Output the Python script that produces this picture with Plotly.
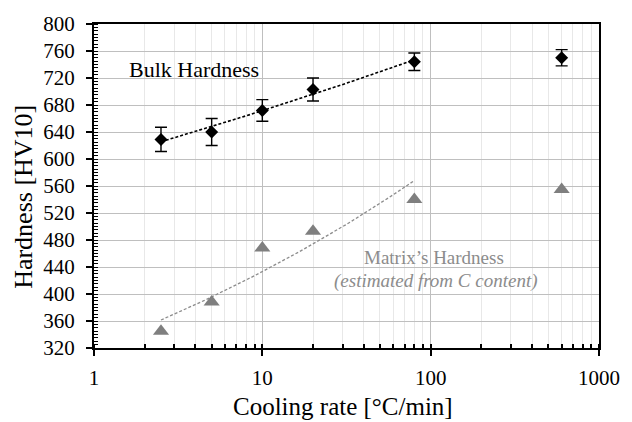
import numpy as np
import plotly.graph_objects as go

cooling_rate = [2.5, 5, 10, 20, 80, 600]
bulk_hardness = [629, 640, 672, 703, 744, 750]
bulk_err = [18, 20, 16, 17, 13, 12]
matrix_hardness = [345, 388, 468, 493, 540, 555]
fit_n = 5  # trendlines fitted over first five points (power trendline)

x_ticks = [1, 10, 100, 1000]
y_ticks = list(range(320, 801, 40))

def power_fit(x, y):
    b, lna = np.polyfit(np.log(x), np.log(y), 1)
    xs = np.logspace(np.log10(x[0]), np.log10(x[-1]), 60)
    return xs, np.exp(lna) * xs ** b

serif = "Liberation Serif"
W, H = 632, 422
ML, MR, MT, MB = 94, 23, 23, 74
PW, PH = W - ML - MR, H - MT - MB

def px(xp):
    return (xp - ML) / PW

def py(yp):
    return (H - MB - yp) / PH

fig = go.Figure()

bx, by = power_fit(np.array(cooling_rate[:fit_n]), np.array(bulk_hardness[:fit_n]))
mx, my = power_fit(np.array(cooling_rate[:fit_n]), np.array(matrix_hardness[:fit_n]))

fig.add_trace(go.Scatter(x=bx, y=by, mode="lines",
                         line=dict(color="black", width=1.6, dash="3px,2px"),
                         showlegend=False, hoverinfo="skip"))
fig.add_trace(go.Scatter(x=mx, y=my, mode="lines",
                         line=dict(color="#8c8c8c", width=1.3, dash="3px,2px"),
                         showlegend=False, hoverinfo="skip"))
fig.add_trace(go.Scatter(x=cooling_rate, y=bulk_hardness, mode="markers",
                         marker=dict(symbol="diamond", size=10, color="black"),
                         error_y=dict(type="data", array=bulk_err, color="black",
                                      thickness=1.4, width=6),
                         showlegend=False))
fig.add_trace(go.Scatter(x=cooling_rate, y=matrix_hardness, mode="markers",
                         marker=dict(symbol="triangle-up", size=14, color="#7f7f7f"),
                         showlegend=False))

fig.add_annotation(x=np.log10(3.95), y=732, text="Bulk Hardness", showarrow=False,
                   xanchor="center", yanchor="middle",
                   font=dict(family=serif, size=22, color="black"))
fig.add_annotation(x=np.log10(104), y=454, text="Matrix\u2019s Hardness", showarrow=False,
                   xanchor="center", yanchor="middle",
                   font=dict(family=serif, size=19, color="#8c8c8c"))
fig.add_annotation(x=np.log10(108), y=420, text="<i>(estimated from C content)</i>",
                   showarrow=False, xanchor="center", yanchor="middle",
                   font=dict(family=serif, size=19, color="#8c8c8c"))

# axis titles
fig.add_annotation(xref="paper", yref="paper", x=px(348), y=py(421),
                   text="Cooling rate [\u00b0C/min]", showarrow=False,
                   xanchor="center", yanchor="bottom", borderpad=0,
                   font=dict(family=serif, size=25, color="black"))
fig.add_annotation(xref="paper", yref="paper", x=px(22), y=py(196),
                   text="Hardness [HV10]", showarrow=False, textangle=-90,
                   xanchor="center", yanchor="middle",
                   font=dict(family=serif, size=26, color="black"))

fig.update_xaxes(type="log", range=[0, 3],
                 tickvals=x_ticks, ticktext=[str(v) for v in x_ticks],
                 showgrid=True, gridcolor="#bfbfbf", gridwidth=1.2,
                 showline=True, linecolor="black", linewidth=2, mirror=True,
                 ticks="outside", ticklen=6, tickwidth=2, tickcolor="black",
                 ticklabelstandoff=4,
                 minor=dict(dtick="D1", ticks="inside", ticklen=4, tickwidth=1.5,
                            tickcolor="black", showgrid=True, gridcolor="#e8e8e8",
                            gridwidth=1.2),
                 tickfont=dict(family=serif, size=21, color="black"),
                 zeroline=False)
fig.update_yaxes(range=[320, 800], tickvals=y_ticks,
                 showgrid=True, gridcolor="#bfbfbf", gridwidth=1.2,
                 showline=True, linecolor="black", linewidth=2, mirror=True,
                 ticks="outside", ticklen=6, tickwidth=2, tickcolor="black",
                 ticklabelstandoff=7,
                 minor=dict(dtick=5, ticks="inside", ticklen=4, tickwidth=1.2,
                            tickcolor="black", showgrid=False),
                 tickfont=dict(family=serif, size=21, color="black"),
                 zeroline=False)

fig.update_layout(width=W, height=H, margin=dict(l=ML, r=MR, t=MT, b=MB),
                  plot_bgcolor="white", paper_bgcolor="white")

fig.write_html("out.html")
